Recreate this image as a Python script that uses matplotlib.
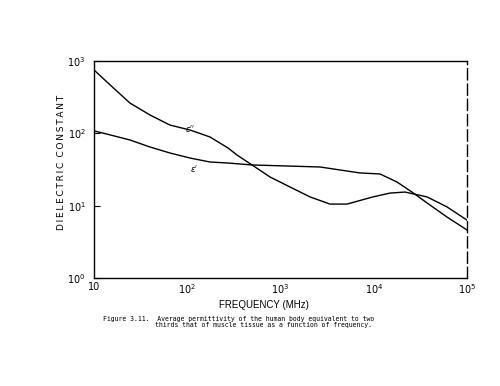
import matplotlib
matplotlib.use("Agg")
import matplotlib.pyplot as plt

# Data (frequency in MHz, dielectric constant)
freq_eps2 = [10, 14.9, 24.3, 39.9, 65.3, 107, 175, 274, 342, 495, 771, 1264, 2070, 3397, 5164, 9820, 14930, 21630, 37240, 61000, 100000]
eps2 = [752, 466, 262, 179, 130, 111, 89, 62.6, 50, 36.5, 24.9, 18.1, 13.2, 10.5, 10.5, 13.2, 14.9, 15.4, 13.2, 9.6, 6.3]

freq_eps1 = [10, 14.9, 24.3, 39.9, 65.3, 107, 175, 274, 495, 1175, 2655, 4345, 7120, 11670, 17750, 25700, 37240, 61000, 100000]
eps1 = [108, 95, 80.8, 64.6, 53.4, 45.5, 40.1, 38.8, 36.5, 35.3, 34.2, 31.1, 28.3, 27.4, 21.2, 15.4, 10.9, 6.95, 4.6]

xticks = [10, 100, 1000, 10000, 100000]
xticklabels = ["10", r"$10^2$", r"$10^3$", r"$10^4$", r"$10^5$"]
yticks = [1, 10, 100, 1000]
yticklabels = [r"$10^0$", r"$10^1$", r"$10^2$", r"$10^3$"]

fig = plt.figure(figsize=(5.0, 3.86), dpi=100)
ax = fig.add_axes([0.188, 0.280, 0.746, 0.562])

ax.plot(freq_eps2, eps2, color="black", lw=1.0)
ax.plot(freq_eps1, eps1, color="black", lw=1.0)

ax.set_xscale("log")
ax.set_yscale("log")
ax.set_xlim(10, 100000)
ax.set_ylim(1, 1000)
ax.set_xticks(xticks)
ax.set_xticklabels(xticklabels)
ax.set_yticks(yticks)
ax.set_yticklabels(yticklabels)
ax.minorticks_off()
ax.tick_params(axis="y", direction="in", length=4, labelsize=7, pad=6)
ax.tick_params(axis="x", length=0, labelsize=7, pad=3)
for s in ax.spines.values():
    s.set_linewidth(1.0)
ax.spines["right"].set_linestyle((0, (8, 3)))

ax.text(107, 118, r"$\epsilon''$", fontsize=6, ha="center", va="center")
ax.text(120, 33, r"$\epsilon'$", fontsize=6, ha="center", va="center")

ax.set_xlabel("FREQUENCY (MHz)", fontsize=7, family="Liberation Sans",
              ha="center", va="center")
ax.xaxis.set_label_coords((264 - 94) / 373, -(305 - 278) / 217)

ylab = "\u2009".join("DIELECTRIC") + "\u2009\u2009\u2009" + "\u2009".join("CONSTANT")
ax.set_ylabel(ylab, fontsize=6.5, family="DejaVu Sans", ha="center", va="center")
ax.yaxis.set_label_coords(-(94 - 62) / 373, (278 - 162) / 217)

fig.text(103 / 500, 1 - 319 / 386,
         "Figure 3.11.  Average permittivity of the human body equivalent to two",
         fontsize=4.7, family="DejaVu Sans Mono", ha="left", va="center")
fig.text(155 / 500, 1 - 324.5 / 386,
         "thirds that of muscle tissue as a function of frequency.",
         fontsize=4.7, family="DejaVu Sans Mono", ha="left", va="center")

fig.savefig("out.png", dpi=100, facecolor="white")
